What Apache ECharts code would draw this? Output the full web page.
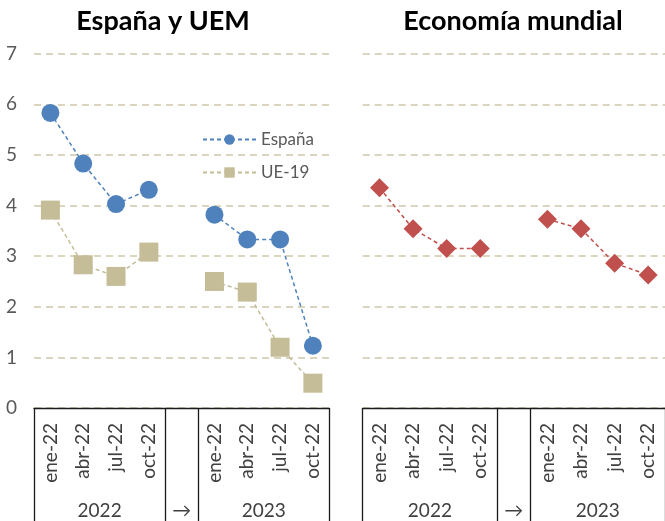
<!DOCTYPE html>
<html>
<head>
<meta charset="utf-8">
<script src="https://cdn.jsdelivr.net/npm/echarts@6/dist/echarts.min.js"></script>
<style>html,body{margin:0;padding:0;background:#fff}#c{width:665px;height:521px}</style>
</head>
<body>
<div id="c"></div>
<script>
var categories = ['ene-22','abr-22','jul-22','oct-22','','ene-22','abr-22','jul-22','oct-22'];
var groupLabels = ['2022','\u2192','2023'];
var yTicks = [0,1,2,3,4,5,6,7];
var espana = [5.83,4.83,4.03,4.31,null,3.82,3.33,3.33,1.23];
var ue19 = [3.91,2.83,2.60,3.08,null,2.50,2.29,1.20,0.49];
var mundial = [4.35,3.54,3.15,3.15,null,3.73,3.54,2.86,2.63];
var titles = ['Espa\u00f1a y UEM','Econom\u00eda mundial'];
var seriesNames = ['Espa\u00f1a','UE-19','Econom\u00eda mundial'];

var FONT = 'Lato';
var chart = echarts.init(document.getElementById('c'), null, {renderer:'canvas'});

function catAxis(gi){
  return {
    type:'category', gridIndex:gi, data:categories, boundaryGap:true,
    axisLine:{show:true, lineStyle:{color:'#1a1a1a', width:1.3}},
    axisTick:{show:false},
    axisLabel:{rotate:90, margin:15, fontFamily:FONT, fontSize:19, color:'#404040', interval:0},
    splitLine:{show:false}, z:5
  };
}
function groupAxis(gi){
  return {
    type:'value', gridIndex:gi, min:0, max:9, position:'bottom',
    axisLine:{show:false},
    axisTick:{show:true, customValues:[0,4,5,9], length:120, inside:false, lineStyle:{color:'#1a1a1a', width:1.3}},
    axisLabel:{show:true, customValues:[2,4.5,7], margin:93, fontFamily:FONT, fontSize:19, color:'#404040',
      formatter:function(v){ return v===2?groupLabels[0]:(v===4.5?groupLabels[1]:groupLabels[2]); }},
    splitLine:{show:false}
  };
}
function valAxis(gi, showLabels){
  return {
    type:'value', gridIndex:gi, min:yTicks[0], max:yTicks[yTicks.length-1], interval:1,
    axisLine:{show:false}, axisTick:{show:false},
    axisLabel:{show:showLabels, margin:17, fontFamily:FONT, fontSize:19, color:'#595959'},
    splitLine:{show:true, lineStyle:{color:'#DAD5BC', width:1.8, type:[7,5]}}
  };
}

chart.setOption({
  animation:false,
  backgroundColor:'#ffffff',
  title:[
    {text:titles[0], left:158, top:3, textAlign:'center', textStyle:{fontFamily:FONT, fontWeight:'bold', fontSize:27, color:'#000'}},
    {text:titles[1], left:508, top:3, textAlign:'center', textStyle:{fontFamily:FONT, fontWeight:'bold', fontSize:27, color:'#000'}}
  ],
  legend:{
    data:[seriesNames[0], seriesNames[1]],
    orient:'vertical', left:197, top:126, itemWidth:53, itemHeight:13, itemGap:16,
    textStyle:{fontFamily:FONT, fontSize:17, color:'#595959'}
  },
  grid:[
    {left:34, top:53.7, width:295.3, bottom:113, containLabel:false},
    {left:362.7, top:53.7, width:305.6, bottom:113, containLabel:false}
  ],
  xAxis:[catAxis(0), catAxis(1), groupAxis(0), groupAxis(1)],
  yAxis:[valAxis(0,true), valAxis(1,false)],
  series:[
    {name:seriesNames[0], type:'line', xAxisIndex:0, yAxisIndex:0, data:espana, connectNulls:false,
      symbol:'circle', symbolSize:18, itemStyle:{color:'#4F81BD'},
      lineStyle:{color:'#4F81BD', width:1.5, type:[4,3]}, z:4},
    {name:seriesNames[1], type:'line', xAxisIndex:0, yAxisIndex:0, data:ue19, connectNulls:false,
      symbol:'rect', symbolSize:19, itemStyle:{color:'#C4BD97'},
      lineStyle:{color:'#C4BD97', width:1.5, type:[4,3]}, z:3},
    {name:seriesNames[2], type:'line', xAxisIndex:1, yAxisIndex:1, data:mundial, connectNulls:false,
      symbol:'diamond', symbolSize:19, itemStyle:{color:'#C0504D'},
      lineStyle:{color:'#C0504D', width:1.5, type:[4,3]}, z:3}
  ]
});
</script>
</body>
</html>
